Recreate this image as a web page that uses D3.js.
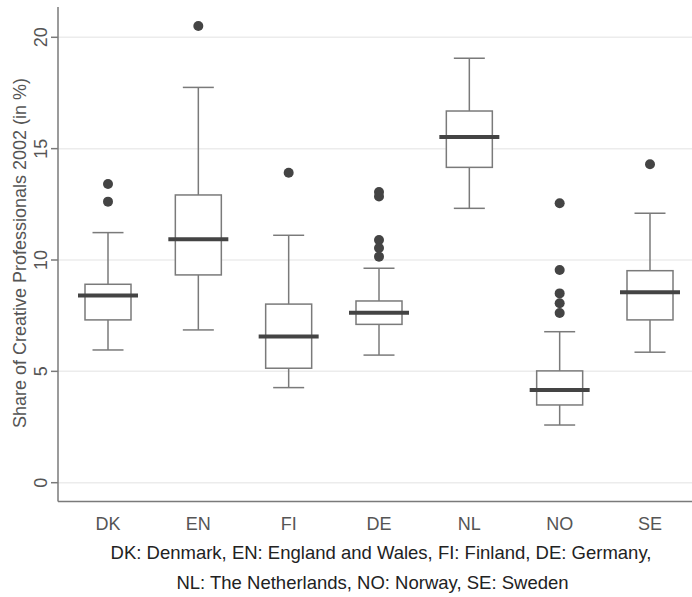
<!DOCTYPE html>
<html>
<head>
<meta charset="utf-8">
<script src="https://cdn.jsdelivr.net/npm/d3@7"></script>
<style>
  body { margin: 0; background: #fff; }
  svg { display: block; font-family: "Liberation Sans", Arial, sans-serif; }
</style>
</head>
<body>
<svg id="chart" width="692" height="597"></svg>
<script>
// countries, in plot order
var countries = ["DK", "EN", "FI", "DE", "NL", "NO", "SE"];
// box statistics (share in %)
var lowerWhisker = [5.96, 6.86, 4.27, 5.73, 12.32, 2.59, 5.86];
var q1 = [7.31, 9.33, 5.14, 7.11, 14.16, 3.49, 7.31];
var median = [8.41, 10.93, 6.56, 7.63, 15.52, 4.16, 8.55];
var q3 = [8.91, 12.92, 8.02, 8.16, 16.69, 5.02, 9.52];
var upperWhisker = [11.23, 17.75, 11.11, 9.63, 19.06, 6.78, 12.10];
var outliers = [
    [13.41, 12.62],
    [20.51],
    [13.92],
    [13.05, 12.85, 10.90, 10.54, 10.15],
    [],
    [12.55, 9.55, 8.50, 8.06, 7.62],
    [14.30]
];
var yTicks = [0, 5, 10, 15, 20];
var yTitle = "Share of Creative Professionals 2002 (in %)";
var captionLines = [
    "DK: Denmark, EN: England and Wales, FI: Finland, DE: Germany,",
    "NL: The Netherlands, NO: Norway, SE: Sweden"
];

var width = 692, height = 597;
var left = 58, bottom = 501.5;

var svg = d3.select("#chart");

var x = d3.scalePoint()
    .domain(countries)
    .range([108, 650]);

var y = d3.scaleLinear()
    .domain([0, 20])
    .range([482.7, 37.3]);

var boxW = 46, medW = 60, capW = 31;
var lineCol = "#7a7a7a";

// gridlines
svg.append("g")
    .selectAll("line")
    .data(yTicks)
    .enter().append("line")
    .attr("x1", left).attr("x2", width)
    .attr("y1", function(d) { return y(d); })
    .attr("y2", function(d) { return y(d); })
    .attr("stroke", "#ececec")
    .attr("stroke-width", 1.5);

// axes
svg.append("line")
    .attr("x1", left).attr("x2", left)
    .attr("y1", 7).attr("y2", bottom)
    .attr("stroke", lineCol).attr("stroke-width", 1.5);
svg.append("line")
    .attr("x1", left).attr("x2", width)
    .attr("y1", bottom).attr("y2", bottom)
    .attr("stroke", lineCol).attr("stroke-width", 1.5);

var yt = svg.append("g");
yt.selectAll("line")
    .data(yTicks)
    .enter().append("line")
    .attr("x1", 51).attr("x2", left)
    .attr("y1", function(d) { return y(d); })
    .attr("y2", function(d) { return y(d); })
    .attr("stroke", lineCol).attr("stroke-width", 1.5);
yt.selectAll("text")
    .data(yTicks)
    .enter().append("text")
    .attr("transform", function(d) { return "translate(47," + y(d) + ") rotate(-90)"; })
    .attr("text-anchor", "middle")
    .attr("font-size", 18)
    .attr("fill", "#555")
    .text(function(d) { return d; });

svg.append("text")
    .attr("transform", "translate(26,253) rotate(-90)")
    .attr("text-anchor", "middle")
    .attr("font-size", 18)
    .attr("fill", "#555")
    .text(yTitle);

// category labels
svg.append("g")
    .selectAll("text")
    .data(countries)
    .enter().append("text")
    .attr("x", function(d) { return x(d); })
    .attr("y", 530)
    .attr("text-anchor", "middle")
    .attr("font-size", 18)
    .attr("fill", "#555")
    .text(function(d) { return d; });

// boxes
var boxes = svg.append("g")
    .selectAll("g")
    .data(countries)
    .enter().append("g");

boxes.append("line")
    .attr("x1", function(d) { return x(d); })
    .attr("x2", function(d) { return x(d); })
    .attr("y1", function(d, i) { return y(upperWhisker[i]); })
    .attr("y2", function(d, i) { return y(lowerWhisker[i]); })
    .attr("stroke", lineCol).attr("stroke-width", 1.5);

[upperWhisker, lowerWhisker].forEach(function(arr) {
    boxes.append("line")
        .attr("x1", function(d) { return x(d) - capW / 2; })
        .attr("x2", function(d) { return x(d) + capW / 2; })
        .attr("y1", function(d, i) { return y(arr[i]); })
        .attr("y2", function(d, i) { return y(arr[i]); })
        .attr("stroke", lineCol).attr("stroke-width", 1.5);
});

boxes.append("rect")
    .attr("x", function(d) { return x(d) - boxW / 2; })
    .attr("width", boxW)
    .attr("y", function(d, i) { return y(q3[i]); })
    .attr("height", function(d, i) { return y(q1[i]) - y(q3[i]); })
    .attr("fill", "#fff")
    .attr("stroke", lineCol).attr("stroke-width", 1.5);

boxes.append("line")
    .attr("x1", function(d) { return x(d) - medW / 2; })
    .attr("x2", function(d) { return x(d) + medW / 2; })
    .attr("y1", function(d, i) { return y(median[i]); })
    .attr("y2", function(d, i) { return y(median[i]); })
    .attr("stroke", "#444").attr("stroke-width", 4);

boxes.selectAll("circle")
    .data(function(d, i) { return outliers[i].map(function(v) { return { c: d, v: v }; }); })
    .enter().append("circle")
    .attr("cx", function(o) { return x(o.c); })
    .attr("cy", function(o) { return y(o.v); })
    .attr("r", 5)
    .attr("fill", "#444");

// caption (second line sits a little left, as in the original)
svg.append("g")
    .selectAll("text")
    .data(captionLines)
    .enter().append("text")
    .attr("x", function(d, i) { return i === 0 ? 381 : 372.5; })
    .attr("y", function(d, i) { return 559 + i * 30; })
    .attr("text-anchor", "middle")
    .attr("font-size", 18.5)
    .attr("fill", "#222")
    .text(function(d) { return d; });
</script>
</body>
</html>
